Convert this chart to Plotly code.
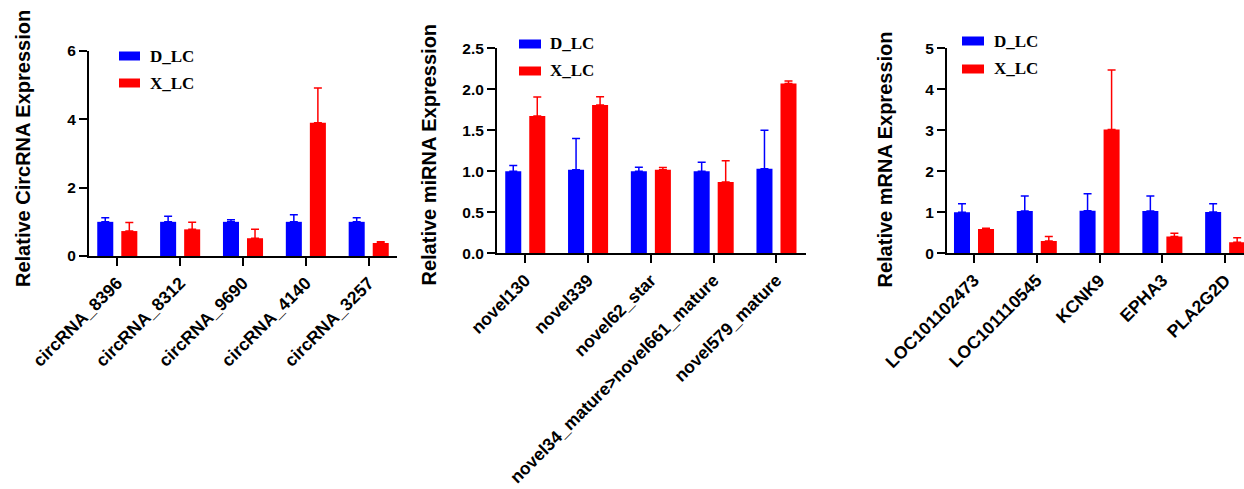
import plotly.graph_objects as go

W, H = 1244, 489

# ---------------- data ----------------
circ_labels = ["circRNA_8396", "circRNA_8312", "circRNA_9690", "circRNA_4140", "circRNA_3257"]
circ_D = [1.0, 1.0, 1.0, 1.0, 1.0]
circ_D_err = [0.12, 0.16, 0.06, 0.21, 0.12]
circ_X = [0.73, 0.78, 0.52, 3.90, 0.38]
circ_X_err = [0.25, 0.21, 0.26, 1.02, 0.04]

mi_labels = ["novel130", "novel339", "novel62_star", "novel34_mature>novel661_mature", "novel579_mature"]
mi_D = [1.0, 1.02, 1.0, 1.0, 1.03]
mi_D_err = [0.07, 0.38, 0.05, 0.11, 0.47]
mi_X = [1.675, 1.81, 1.02, 0.87, 2.07]
mi_X_err = [0.23, 0.10, 0.025, 0.26, 0.03]

m_labels = ["LOC101102473", "LOC101110545", "KCNK9", "EPHA3", "PLA2G2D"]
m_D = [1.0, 1.03, 1.04, 1.03, 1.01]
m_D_err = [0.21, 0.37, 0.41, 0.37, 0.20]
m_X = [0.59, 0.30, 3.02, 0.41, 0.27]
m_X_err = [0.02, 0.11, 1.45, 0.08, 0.11]

series_names = ["D_LC", "X_LC"]
colors = ["#0000FF", "#FF0000"]
y_titles = ["Relative CircRNA Expression", "Relative miRNA Expression", "Relative mRNA Expression"]
y_ranges = [[0, 6], [0, 2.5], [0, 5]]
y_dticks = [2, 0.5, 1]
y_formats = ["d", ".1f", "d"]

# ---------------- layout geometry (pixels) ----------------
def px(x):
    return x / W

def py(y):
    return 1 - y / H

x_domains = [(89, 397), (497, 806), (947, 1244)]
y_domains = [(256, 51), (253.3, 48.3), (253.3, 48.3)]
x_ranges = [[-0.45, 4.45], [-0.45, 4.47], [-0.43, 4.30]]
title_pos = [(23, 149), (429, 154.5), (884, 159.5)]
legend_pos = [  # swatch x0, x1, y center D, y center X, text x
    (119, 140, 56, 83, 148),
    (519, 541, 44, 71, 548),
    (962, 984, 41, 69, 992),
]

panels = [
    (circ_labels, [circ_D, circ_X], [circ_D_err, circ_X_err]),
    (mi_labels, [mi_D, mi_X], [mi_D_err, mi_X_err]),
    (m_labels, [m_D, m_X], [m_D_err, m_X_err]),
]

fig = go.Figure()
font_sans = "Liberation Sans, Arial, sans-serif"
font_serif = "Liberation Serif, Times New Roman, serif"

shapes = []
annotations = []

for i, (labels, vals, errs) in enumerate(panels):
    xa = "x" if i == 0 else f"x{i+1}"
    ya = "y" if i == 0 else f"y{i+1}"
    for s in range(2):
        fig.add_trace(go.Bar(
            x=labels, y=vals[s], name=series_names[s],
            marker=dict(color=colors[s], line=dict(width=0)),
            error_y=dict(type="data", symmetric=False, array=errs[s],
                         arrayminus=[0] * len(errs[s]),
                         color=colors[s], thickness=1.5, width=4),
            xaxis=xa, yaxis=ya, showlegend=False,
        ))
    xkey = "xaxis" if i == 0 else f"xaxis{i+1}"
    ykey = "yaxis" if i == 0 else f"yaxis{i+1}"
    fig.update_layout(**{
        xkey: dict(
            domain=[px(x_domains[i][0]), px(x_domains[i][1])],
            anchor=ya, range=x_ranges[i], type="category", automargin=False,
            showline=True, linecolor="black", linewidth=2,
            ticks="outside", ticklen=8, tickwidth=2, tickcolor="black",
            tickangle=-45, showgrid=False, zeroline=False, ticklabelstandoff=0,
            tickfont=dict(family=font_sans, size=17.5, color="black", weight="bold"),
        ),
        ykey: dict(
            domain=[py(y_domains[i][0]), py(y_domains[i][1])],
            anchor=xa, range=y_ranges[i], dtick=y_dticks[i], tick0=0,
            tickformat=y_formats[i], automargin=False,
            showline=True, linecolor="black", linewidth=2,
            ticks="outside", ticklen=8, tickwidth=2, tickcolor="black",
            showgrid=False, zeroline=False,
            tickfont=dict(family=font_sans, size=15.5, color="black", weight="bold"),
        ),
    })
    tx, ty = title_pos[i]
    annotations.append(dict(
        x=px(tx), y=py(ty), xref="paper", yref="paper", text=y_titles[i],
        textangle=-90, showarrow=False, xanchor="center", yanchor="middle",
        font=dict(family=font_sans, size=20, color="black", weight="bold"),
    ))
    sx0, sx1, yd, yx, txx = legend_pos[i]
    for s, yc in enumerate([yd, yx]):
        shapes.append(dict(
            type="rect", xref="paper", yref="paper",
            x0=px(sx0), x1=px(sx1), y0=py(yc - 4.5), y1=py(yc + 4.5),
            fillcolor=colors[s], line=dict(width=0),
        ))
        annotations.append(dict(
            x=px(txx), y=py(yc), xref="paper", yref="paper", text=series_names[s],
            showarrow=False, xanchor="left", yanchor="middle",
            font=dict(family=font_serif, size=17, color="black", weight="bold"),
        ))

fig.update_layout(
    template="none",
    width=W, height=H,
    margin=dict(l=0, r=0, t=0, b=0, autoexpand=False),
    paper_bgcolor="white", plot_bgcolor="white",
    barmode="group", bargap=0.235, bargroupgap=0.333,
    shapes=shapes, annotations=annotations,
    showlegend=False,
)

fig.write_html("out.html")
